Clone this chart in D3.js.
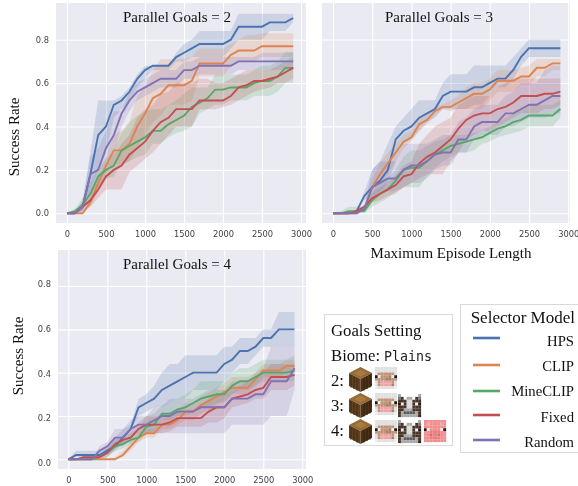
<!DOCTYPE html>
<html>
<head>
<meta charset="utf-8">
<script src="https://cdn.jsdelivr.net/npm/d3@7"></script>
<style>
  html, body { margin: 0; padding: 0; background: #fff; overflow: hidden; }
  svg { display: block; filter: blur(0.4px); }
  .tick text { font-family: "DejaVu Sans", sans-serif; font-size: 8.3px; fill: #444; }
  .serif { font-family: "Liberation Serif", serif; fill: #111; }
</style>
</head>
<body>
<svg id="chart" width="578" height="486"></svg>
<script>
const episodeLengths = d3.range(0, 3000, 100);
const xTicks = [0, 500, 1000, 1500, 2000, 2500, 3000];
const yTicks = [0, 0.2, 0.4, 0.6, 0.8];
const modelNames = ["HPS", "CLIP", "MineCLIP", "Fixed", "Random"];
const modelColors = ["#4c72b0", "#dd8452", "#55a868", "#c44e52", "#8172b3"];

// parallel goals = 2
const g2Hps = [0,0,.03,.18,.36,.40,.50,.52,.56,.62,.66,.68,.68,.68,.72,.74,.76,.78,.78,.78,.78,.80,.86,.86,.86,.86,.88,.88,.88,.90];
const g2HpsHigh = [0,0,.06,.28,.52,.52,.52,.54,.58,.64,.68,.68,.68,.68,.74,.78,.80,.84,.84,.84,.84,.84,.92,.92,.92,.92,.92,.92,.92,.92];
const g2HpsLow = [0,0,.01,.10,.20,.28,.44,.48,.52,.58,.62,.66,.66,.66,.70,.70,.72,.72,.72,.72,.72,.76,.80,.80,.80,.80,.84,.84,.84,.88];
const g2Clip = [0,0,0,.05,.14,.22,.29,.29,.32,.40,.46,.53,.55,.59,.59,.59,.61,.69,.69,.69,.69,.73,.75,.75,.75,.77,.77,.77,.77,.77];
const g2ClipHigh = [0,0,0,.08,.18,.26,.36,.38,.42,.54,.58,.66,.71,.71,.71,.71,.72,.76,.76,.76,.76,.78,.80,.82,.82,.83,.83,.83,.83,.83];
const g2ClipLow = [0,0,0,.03,.10,.18,.23,.22,.24,.30,.36,.42,.45,.50,.50,.50,.52,.63,.63,.63,.63,.68,.70,.70,.70,.72,.72,.72,.72,.72];
const g2Mine = [0,.01,.04,.09,.17,.20,.22,.29,.31,.33,.35,.38,.38,.41,.43,.45,.49,.51,.53,.57,.57,.58,.58,.58,.60,.61,.61,.63,.67,.67];
const g2MineHigh = [0,.02,.07,.14,.21,.25,.29,.37,.42,.45,.47,.48,.48,.50,.52,.55,.58,.58,.58,.64,.64,.64,.64,.64,.66,.68,.68,.70,.745,.745];
const g2MineLow = [0,0,.02,.05,.12,.16,.17,.23,.24,.26,.27,.32,.32,.35,.37,.38,.40,.46,.48,.50,.50,.52,.52,.52,.54,.54,.54,.56,.60,.60];
const g2Fixed = [0,0,.03,.06,.11,.17,.20,.22,.27,.30,.33,.38,.42,.44,.48,.48,.48,.52,.52,.52,.52,.54,.58,.59,.61,.61,.62,.63,.65,.67];
const g2FixedHigh = [0,0,.04,.09,.15,.22,.27,.32,.36,.44,.48,.50,.55,.56,.60,.60,.60,.62,.62,.60,.60,.62,.64,.66,.66,.66,.66,.68,.70,.72];
const g2FixedLow = [0,0,.01,.03,.07,.11,.11,.11,.19,.22,.25,.28,.32,.36,.40,.40,.40,.48,.48,.48,.49,.50,.52,.54,.56,.57,.58,.60,.60,.62];
const g2Random = [0,0,.03,.18,.20,.30,.36,.46,.52,.56,.58,.60,.62,.62,.62,.66,.66,.68,.68,.68,.68,.68,.70,.70,.70,.70,.70,.70,.70,.70];
const g2RandomHigh = [0,0,.05,.26,.30,.38,.47,.47,.56,.60,.62,.64,.66,.66,.66,.70,.70,.72,.72,.72,.72,.72,.72,.72,.72,.74,.74,.74,.74,.74];
const g2RandomLow = [0,0,.01,.10,.12,.22,.27,.40,.47,.52,.54,.56,.58,.58,.58,.62,.62,.64,.64,.64,.64,.64,.66,.66,.66,.66,.66,.66,.66,.66];

// parallel goals = 3
const g3Hps = [0,0,0,.01,.08,.12,.15,.20,.34,.38,.40,.44,.46,.48,.54,.56,.56,.56,.58,.58,.60,.62,.62,.66,.72,.76,.76,.76,.76,.76];
const g3HpsHigh = [0,0,0,.01,.10,.20,.24,.32,.40,.44,.48,.52,.52,.52,.60,.64,.64,.64,.68,.68,.68,.68,.68,.72,.76,.80,.80,.80,.80,.80];
const g3HpsLow = [0,0,0,.01,.06,.08,.10,.14,.24,.32,.34,.38,.42,.44,.48,.48,.48,.48,.50,.50,.54,.58,.58,.62,.68,.72,.72,.72,.72,.72];
const g3Clip = [0,0,0,0,.02,.12,.18,.23,.28,.33,.35,.41,.43,.47,.49,.49,.51,.53,.55,.55,.57,.61,.61,.61,.63,.63,.67,.67,.69,.69];
const g3ClipHigh = [0,0,0,0,.03,.16,.23,.28,.32,.36,.38,.44,.45,.49,.50,.52,.54,.58,.60,.60,.62,.66,.66,.66,.67,.68,.71,.71,.71,.71];
const g3ClipLow = [0,0,0,0,.01,.08,.13,.18,.24,.30,.33,.38,.41,.45,.48,.47,.48,.48,.48,.48,.52,.56,.56,.56,.59,.59,.63,.63,.66,.66];
const g3Mine = [0,0,.01,.01,.01,.06,.09,.11,.15,.20,.21,.21,.24,.27,.29,.31,.32,.33,.34,.35,.37,.39,.40,.42,.43,.45,.45,.45,.45,.48];
const g3MineHigh = [0,.01,.03,.03,.03,.09,.13,.16,.20,.26,.29,.29,.31,.33,.34,.36,.36,.36,.37,.38,.40,.42,.44,.46,.48,.50,.50,.50,.50,.52];
const g3MineLow = [0,0,0,0,0,.03,.05,.07,.10,.12,.12,.12,.17,.21,.24,.26,.28,.28,.29,.32,.33,.35,.36,.37,.38,.40,.40,.40,.40,.44];
const g3Fixed = [0,0,0,.01,.03,.07,.09,.11,.13,.17,.18,.23,.26,.28,.31,.34,.39,.43,.45,.46,.46,.48,.49,.51,.54,.54,.54,.55,.55,.56];
const g3FixedHigh = [0,0,0,.02,.04,.09,.12,.14,.18,.22,.24,.32,.36,.40,.42,.44,.50,.52,.54,.54,.54,.58,.60,.62,.62,.62,.62,.62,.62,.62];
const g3FixedLow = [0,0,0,0,.02,.05,.06,.08,.09,.12,.14,.16,.18,.18,.18,.24,.28,.34,.36,.38,.38,.40,.42,.44,.46,.46,.46,.48,.48,.50];
const g3Random = [0,0,0,0,.02,.12,.14,.16,.16,.20,.22,.22,.24,.27,.28,.28,.34,.34,.40,.42,.42,.42,.46,.46,.48,.50,.50,.52,.54,.54];
const g3RandomHigh = [0,0,0,0,.04,.20,.24,.24,.24,.32,.32,.32,.32,.34,.36,.36,.42,.44,.48,.50,.50,.50,.54,.56,.60,.60,.60,.66,.68,.68];
const g3RandomLow = [0,0,0,0,.01,.08,.09,.10,.10,.12,.14,.14,.16,.20,.22,.22,.28,.28,.34,.36,.36,.36,.40,.40,.42,.44,.44,.44,.46,.46];

// parallel goals = 4
const g4Hps = [0,.02,.02,.02,.02,.04,.06,.10,.14,.24,.26,.28,.32,.34,.36,.38,.40,.40,.40,.40,.44,.46,.50,.50,.52,.56,.56,.60,.60,.60];
const g4HpsHigh = [0,.04,.04,.04,.04,.06,.10,.14,.16,.28,.30,.34,.40,.44,.44,.48,.48,.48,.48,.48,.52,.52,.56,.56,.56,.60,.60,.68,.68,.68];
const g4HpsLow = [0,.01,.01,.01,.01,.02,.04,.08,.14,.20,.22,.24,.24,.26,.28,.28,.32,.32,.32,.32,.36,.40,.44,.44,.48,.52,.52,.52,.52,.52];
const g4Clip = [0,0,0,0,0,0,0,.02,.06,.10,.12,.12,.16,.16,.18,.22,.22,.25,.27,.29,.31,.33,.33,.33,.37,.41,.41,.41,.43,.43];
const g4ClipHigh = [0,0,0,0,0,0,.01,.04,.08,.12,.14,.14,.18,.20,.22,.26,.26,.29,.31,.33,.35,.38,.38,.38,.40,.44,.44,.44,.46,.46];
const g4ClipLow = [0,0,0,0,0,0,0,.01,.04,.08,.10,.10,.14,.14,.16,.18,.18,.21,.23,.25,.27,.30,.30,.30,.34,.38,.38,.38,.40,.40];
const g4Mine = [0,0,0,0,.01,.03,.06,.07,.09,.10,.15,.16,.21,.21,.23,.24,.26,.28,.29,.30,.30,.34,.36,.36,.38,.40,.40,.40,.40,.41];
const g4MineHigh = [0,0,0,0,.02,.05,.08,.09,.12,.14,.20,.21,.25,.26,.28,.30,.32,.36,.36,.36,.36,.40,.42,.42,.44,.46,.46,.46,.46,.48];
const g4MineLow = [0,0,0,0,0,.01,.04,.05,.07,.08,.12,.13,.18,.18,.20,.20,.22,.24,.24,.26,.26,.30,.32,.32,.34,.36,.36,.36,.36,.36];
const g4Fixed = [0,0,.01,.01,.01,.03,.07,.09,.10,.14,.16,.16,.16,.17,.19,.19,.19,.19,.22,.24,.24,.28,.29,.30,.32,.33,.38,.38,.38,.39];
const g4FixedHigh = [0,0,.02,.02,.02,.05,.09,.11,.13,.17,.20,.20,.20,.21,.23,.23,.23,.25,.28,.30,.30,.32,.34,.36,.38,.40,.44,.44,.44,.44];
const g4FixedLow = [0,0,0,0,0,.01,.05,.07,.08,.11,.12,.12,.12,.13,.15,.15,.15,.15,.17,.17,.19,.24,.25,.26,.28,.28,.32,.32,.32,.34];
const g4Random = [0,0,0,0,.04,.06,.10,.10,.14,.16,.16,.18,.20,.20,.22,.22,.22,.24,.24,.24,.24,.28,.28,.28,.30,.30,.36,.36,.36,.42];
const g4RandomHigh = [0,0,0,0,.06,.08,.14,.14,.18,.20,.20,.24,.24,.28,.28,.28,.28,.30,.32,.32,.32,.36,.36,.36,.40,.42,.52,.52,.52,.52];
const g4RandomLow = [0,0,0,0,.02,.04,.06,.06,.10,.12,.12,.12,.12,.12,.12,.12,.12,.12,.12,.12,.12,.16,.16,.16,.16,.16,.20,.20,.20,.32];

const svg = d3.select("#chart");

function drawPanel(settings) {
  const { left, right, top, bottom, x0, x500, y0, y08, title, titleX, titleY, showYLabels, labelNudge, means, highs, lows } = settings;

  const xScale = d3.scaleLinear().domain([0, 500]).range([x0, x500]);
  const yScale = d3.scaleLinear().domain([0, 0.8]).range([y0, y08]);

  const panel = svg.append("g");

  panel.append("rect")
    .attr("x", left).attr("y", top)
    .attr("width", right - left).attr("height", bottom - top)
    .attr("fill", "#eaeaf2");

  const clipId = `clip-${title.slice(-1)}`;
  panel.append("clipPath").attr("id", clipId).append("rect")
    .attr("x", left).attr("y", top)
    .attr("width", right - left).attr("height", bottom - top);

  // seaborn style axes: white grid lines, no ticks or spine
  const xAxis = panel.append("g")
    .attr("transform", `translate(0,${bottom})`)
    .call(d3.axisBottom(xScale).tickValues(xTicks).tickFormat(d3.format("d"))
      .tickSize(-(bottom - top)).tickPadding(8));
  xAxis.select(".domain").remove();
  xAxis.selectAll("line").attr("stroke", "#fff").attr("stroke-width", 1.1);

  const yAxis = panel.append("g")
    .attr("transform", `translate(${left},0)`)
    .call(d3.axisLeft(yScale).tickValues(yTicks).tickFormat(d3.format(".1f"))
      .tickSize(-(right - left)).tickPadding(7));
  yAxis.select(".domain").remove();
  yAxis.selectAll("line").attr("stroke", "#fff").attr("stroke-width", 1.1);
  if (!showYLabels) yAxis.selectAll("text").remove();
  // bottom-left panel's labels sit a bit apart from its grid lines
  if (labelNudge) yAxis.selectAll("text").attr("y", (d) => labelNudge(d));

  const marks = panel.append("g").attr("clip-path", `url(#${clipId})`);

  const area = d3.area()
    .x((d) => xScale(d.x))
    .y0((d) => yScale(d.low))
    .y1((d) => yScale(d.high));
  const line = d3.line()
    .x((d) => xScale(d.x))
    .y((d) => yScale(d.y));

  modelNames.forEach((name, i) => {
    const bandData = episodeLengths.map((x, k) => ({ x, low: lows[i][k], high: highs[i][k] }));
    marks.append("path").attr("d", area(bandData))
      .attr("fill", modelColors[i]).attr("fill-opacity", 0.2);
  });
  modelNames.forEach((name, i) => {
    const lineData = episodeLengths.map((x, k) => ({ x, y: means[i][k] }));
    marks.append("path").attr("d", line(lineData))
      .attr("fill", "none").attr("stroke", modelColors[i]).attr("stroke-width", 1.9);
  });

  panel.append("text").attr("class", "serif")
    .attr("x", titleX).attr("y", titleY)
    .attr("text-anchor", "middle").attr("font-size", 15)
    .text(title);
}

drawPanel({
  left: 56, right: 306, top: 3, bottom: 223, x0: 67, x500: 106, y0: 213.3, y08: 39.7,
  title: "Parallel Goals = 2", titleX: 177, titleY: 22, showYLabels: true,
  means: [g2Hps, g2Clip, g2Mine, g2Fixed, g2Random],
  highs: [g2HpsHigh, g2ClipHigh, g2MineHigh, g2FixedHigh, g2RandomHigh],
  lows: [g2HpsLow, g2ClipLow, g2MineLow, g2FixedLow, g2RandomLow],
});
drawPanel({
  left: 322, right: 570, top: 3, bottom: 223, x0: 333, x500: 372.2, y0: 213.3, y08: 39.5,
  title: "Parallel Goals = 3", titleX: 439, titleY: 22, showYLabels: false,
  means: [g3Hps, g3Clip, g3Mine, g3Fixed, g3Random],
  highs: [g3HpsHigh, g3ClipHigh, g3MineHigh, g3FixedHigh, g3RandomHigh],
  lows: [g3HpsLow, g3ClipLow, g3MineLow, g3FixedLow, g3RandomLow],
});
drawPanel({
  left: 58, right: 306, top: 250, bottom: 469, x0: 68.3, x500: 107.3, y0: 459.3, y08: 286,
  title: "Parallel Goals = 4", titleX: 177, titleY: 269, showYLabels: true,
  labelNudge: d3.scaleLinear().domain([0, 0.8]).range([3.5, -2]),
  means: [g4Hps, g4Clip, g4Mine, g4Fixed, g4Random],
  highs: [g4HpsHigh, g4ClipHigh, g4MineHigh, g4FixedHigh, g4RandomHigh],
  lows: [g4HpsLow, g4ClipLow, g4MineLow, g4FixedLow, g4RandomLow],
});

// axis labels
function rotatedLabel(cx, cy, text) {
  svg.append("text").attr("class", "serif")
    .attr("transform", `translate(${cx},${cy}) rotate(-90)`)
    .attr("text-anchor", "middle").attr("font-size", 15)
    .text(text);
}
rotatedLabel(19, 137, "Success Rate");
rotatedLabel(23, 356, "Success Rate");

svg.append("text").attr("class", "serif")
  .attr("x", 451).attr("y", 258)
  .attr("text-anchor", "middle").attr("font-size", 15)
  .text("Maximum Episode Length");

// selector model legend
const legendTitleY = 323;
const legendLineYs = [338, 365, 391, 415, 440];
const legendTextYs = [346, 371, 396, 422, 447];

svg.append("rect")
  .attr("x", 460.5).attr("y", 304.5).attr("width", 130).attr("height", 148)
  .attr("fill", "#fff").attr("stroke", "#d9d9d9");

svg.append("text").attr("class", "serif")
  .attr("x", 575).attr("y", legendTitleY)
  .attr("text-anchor", "end").attr("font-size", 17)
  .text("Selector Model");

modelNames.forEach((name, i) => {
  svg.append("line")
    .attr("x1", 473).attr("x2", 500)
    .attr("y1", legendLineYs[i]).attr("y2", legendLineYs[i])
    .attr("stroke", modelColors[i]).attr("stroke-width", 2.6);
  svg.append("text").attr("class", "serif")
    .attr("x", 574).attr("y", legendTextYs[i])
    .attr("text-anchor", "end").attr("font-size", 14.7)
    .text(name);
});

// goals setting legend
svg.append("rect")
  .attr("x", 324.5).attr("y", 314.5).attr("width", 128).attr("height", 131)
  .attr("fill", "#fff").attr("stroke", "#dcdcdc").attr("stroke-width", 1.2);

const goalText = (x, y, t) => svg.append("text").attr("class", "serif")
  .attr("x", x).attr("y", y).attr("font-size", 16.7).text(t);

goalText(331, 336, "Goals Setting");
goalText(331, 361, "Biome: ");
svg.append("text").attr("x", 384).attr("y", 361)
  .attr("font-family", "'DejaVu Sans Mono', monospace").attr("font-size", 13.3).attr("fill", "#222")
  .text("Plains");
goalText(331, 386, "2:");
goalText(331, 411, "3:");
goalText(331, 436, "4:");

// mob faces, 8x8 pixel art
const iconColors = {
  W: "#e0e0e0", w: "#efefef", t: "#c09478", T: "#a98268", k: "#1e1a18", p: "#eda2a6",
  b: "#4a3428", B: "#35261d", g: "#a8a8a8", G: "#7a7a7a", l: "#d8d8d8", d: "#5c5c5c", ".": "#ffffff",
  P: "#f28d8d", q: "#f6a5a5", r: "#d96c6c", s: "#e87f7f",
};
const sheepFace = ["WWWWWWWW", "WWWWWWWW", "WttttttW", "kwtttTwk", "ttttTTtt", "WtpppptW", "WtppppTW", "wWWWWWWw"];
const cowFace = ["g......g", "Gb.gg.bG", "bbbllbbb", "kwbllbwk", "bbbllbbb", "bbgggbbb", "bgddddgb", "bggggggB"];
const pigFace = ["PPPPPPPP", "PqPPPPqP", "PPPPPPPP", "kwPPPPwk", "PPssssPP", "PPrssrPP", "PPssssPP", "PPPPPPPP"];

function drawFace(rows, x, y, size) {
  const pixel = d3.scaleBand().domain(d3.range(8)).range([0, size]);
  const cells = rows.flatMap((row, r) => row.split("").map((c, col) => ({ c, r, col })));
  svg.append("g").attr("transform", `translate(${x},${y})`)
    .selectAll("rect").data(cells).join("rect")
    .attr("x", (d) => pixel(d.col)).attr("y", (d) => pixel(d.r))
    .attr("width", pixel.bandwidth() + 0.1).attr("height", pixel.bandwidth() + 0.1)
    .attr("fill", (d) => iconColors[d.c]);
}

function drawLog(x, y) {
  const g = svg.append("g").attr("transform", `translate(${x},${y})`);
  g.append("polygon").attr("points", "11.5,0 23,6 11.5,12 0,6").attr("fill", "#946a35");
  g.append("polygon").attr("points", "11.5,2.5 18,6 11.5,9.5 5,6").attr("fill", "#a67c42");
  g.append("polygon").attr("points", "0,6 11.5,12 11.5,25 0,19").attr("fill", "#61401f");
  g.append("polygon").attr("points", "23,6 11.5,12 11.5,25 23,19").attr("fill", "#4d3217");
  d3.range(2, 11, 3).forEach((dx) => {
    g.append("line").attr("x1", dx).attr("x2", dx)
      .attr("y1", 7 + dx / 2).attr("y2", 19 + dx / 2 + 0.5)
      .attr("stroke", "#432a12").attr("stroke-width", 1);
    g.append("line").attr("x1", 23 - dx).attr("x2", 23 - dx)
      .attr("y1", 7 + dx / 2).attr("y2", 19 + dx / 2 + 0.5)
      .attr("stroke", "#33200e").attr("stroke-width", 1);
  });
}

drawLog(349, 367);
drawFace(sheepFace, 375, 367, 22);
drawLog(349, 393);
drawFace(sheepFace, 375, 393, 22);
drawFace(cowFace, 398, 394, 23);
drawLog(349, 419);
drawFace(sheepFace, 375, 420, 22);
drawFace(cowFace, 398, 420, 23);
drawFace(pigFace, 424, 420, 22);
</script>
</body>
</html>
